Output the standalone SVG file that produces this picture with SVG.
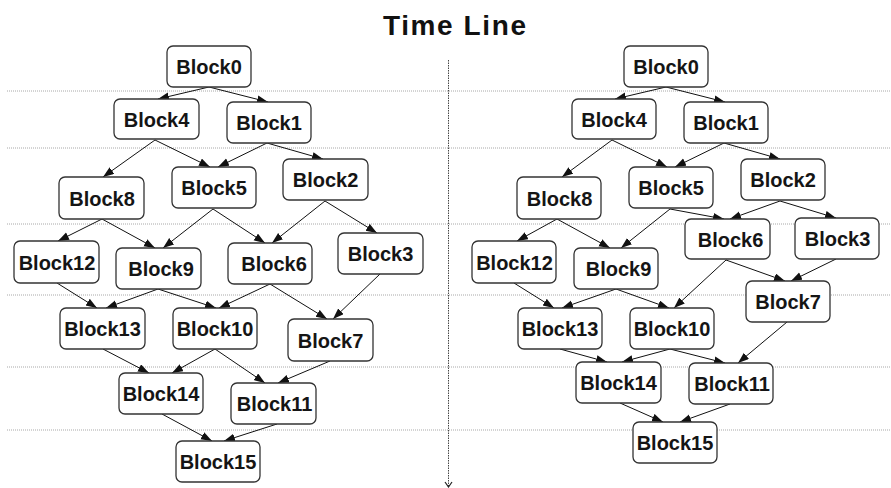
<svg xmlns="http://www.w3.org/2000/svg" width="891" height="488" viewBox="0 0 891 488">
  <style>
    .bg { fill: #ffffff; }
    .title { font-family: "Liberation Sans", Arial, sans-serif; font-weight: bold; font-size: 28px; letter-spacing: 1.6px; fill: #111111; }
    .grid { stroke: #a8a8a8; stroke-width: 1; stroke-dasharray: 1 1; fill: none; }
    .axis { stroke: #444444; stroke-width: 1; stroke-dasharray: 1.5 1; fill: none; }
    .axis-head { stroke: #222222; stroke-width: 1.2; fill: none; }
    .box { fill: #ffffff; stroke: #333333; stroke-width: 1.3; }
    .lbl { font-family: "Liberation Sans", Arial, sans-serif; font-weight: bold; font-size: 20px; fill: #151515; text-anchor: middle; }
    .edge { stroke: #111111; stroke-width: 1; fill: none; marker-end: url(#arrow); }
  </style>
  <defs>
    <marker id="arrow" markerUnits="userSpaceOnUse" markerWidth="11" markerHeight="9" refX="11" refY="4" orient="auto">
      <path d="M0,0 L11,4 L0,8 z" fill="#111111"/>
    </marker>
  </defs>

  <rect class="bg" x="0" y="0" width="891" height="488"/>

  <text class="title" x="383" y="35">Time Line</text>

  <!-- level separators -->
  <g id="levels">
    <line class="grid" x1="7" y1="91" x2="891" y2="91"/>
    <line class="grid" x1="7" y1="148" x2="891" y2="148"/>
    <line class="grid" x1="7" y1="224" x2="891" y2="224"/>
    <line class="grid" x1="7" y1="295" x2="891" y2="295"/>
    <line class="grid" x1="7" y1="367" x2="891" y2="367"/>
    <line class="grid" x1="7" y1="430" x2="891" y2="430"/>
  </g>

  <!-- time axis -->
  <g id="time-axis">
    <line class="axis" x1="448.5" y1="60" x2="448.5" y2="486"/>
    <path class="axis-head" d="M445,482 L448.5,487 L452,482"/>
  </g>

  <!-- connectors -->
  <g id="connectors">
    <!-- left schedule -->
    <line class="edge" x1="209" y1="87" x2="158" y2="99"/>
    <line class="edge" x1="209" y1="87" x2="268" y2="102"/>
    <line class="edge" x1="155" y1="140" x2="103" y2="177"/>
    <line class="edge" x1="155" y1="140" x2="210" y2="167"/>
    <line class="edge" x1="267" y1="143" x2="218" y2="167"/>
    <line class="edge" x1="267" y1="143" x2="323" y2="159"/>
    <line class="edge" x1="102" y1="219" x2="58" y2="241"/>
    <line class="edge" x1="102" y1="219" x2="155" y2="248"/>
    <line class="edge" x1="213" y1="209" x2="163" y2="248"/>
    <line class="edge" x1="213" y1="209" x2="265" y2="243"/>
    <line class="edge" x1="325" y1="201" x2="272" y2="243"/>
    <line class="edge" x1="325" y1="201" x2="377" y2="233"/>
    <line class="edge" x1="57" y1="283" x2="97" y2="308"/>
    <line class="edge" x1="158" y1="289" x2="106" y2="308"/>
    <line class="edge" x1="158" y1="289" x2="216" y2="308"/>
    <line class="edge" x1="270" y1="284" x2="219" y2="308"/>
    <line class="edge" x1="270" y1="284" x2="327" y2="319"/>
    <line class="edge" x1="380" y1="274" x2="333" y2="319"/>
    <line class="edge" x1="103" y1="349" x2="149" y2="373"/>
    <line class="edge" x1="215" y1="349" x2="172" y2="373"/>
    <line class="edge" x1="215" y1="349" x2="265" y2="383"/>
    <line class="edge" x1="330" y1="361" x2="278" y2="383"/>
    <line class="edge" x1="162" y1="414" x2="212" y2="441"/>
    <line class="edge" x1="277" y1="424" x2="224" y2="441"/>

    <!-- right schedule -->
    <line class="edge" x1="666" y1="87" x2="615" y2="99"/>
    <line class="edge" x1="666" y1="87" x2="725" y2="102"/>
    <line class="edge" x1="612" y1="140" x2="562" y2="177"/>
    <line class="edge" x1="612" y1="140" x2="667" y2="167"/>
    <line class="edge" x1="724" y1="143" x2="675" y2="167"/>
    <line class="edge" x1="724" y1="143" x2="780" y2="159"/>
    <line class="edge" x1="557" y1="219" x2="517" y2="241"/>
    <line class="edge" x1="557" y1="219" x2="610" y2="248"/>
    <line class="edge" x1="670" y1="209" x2="621" y2="248"/>
    <line class="edge" x1="670" y1="209" x2="724" y2="219"/>
    <line class="edge" x1="780" y1="201" x2="730" y2="219"/>
    <line class="edge" x1="780" y1="201" x2="836" y2="218"/>
    <line class="edge" x1="514" y1="283" x2="554" y2="308"/>
    <line class="edge" x1="616" y1="289" x2="562" y2="308"/>
    <line class="edge" x1="616" y1="289" x2="669" y2="308"/>
    <line class="edge" x1="726" y1="260" x2="674" y2="308"/>
    <line class="edge" x1="726" y1="260" x2="785" y2="281"/>
    <line class="edge" x1="836" y1="259" x2="791" y2="281"/>
    <line class="edge" x1="560" y1="349" x2="607" y2="362"/>
    <line class="edge" x1="670" y1="349" x2="622" y2="362"/>
    <line class="edge" x1="670" y1="349" x2="725" y2="363"/>
    <line class="edge" x1="787" y1="322" x2="738" y2="363"/>
    <line class="edge" x1="620" y1="403" x2="663" y2="422"/>
    <line class="edge" x1="730" y1="404" x2="680" y2="422"/>
  </g>

  <!-- left schedule blocks -->
  <g id="L-Block0"><rect class="box" x="167" y="46" width="84" height="41" rx="6"/><text class="lbl" x="209" y="74">Block0</text></g>
  <g id="L-Block4"><rect class="box" x="114" y="99" width="85" height="40" rx="6"/><text class="lbl" x="156.5" y="126.5">Block4</text></g>
  <g id="L-Block1"><rect class="box" x="227" y="102" width="84" height="41" rx="6"/><text class="lbl" x="269" y="130">Block1</text></g>
  <g id="L-Block8"><rect class="box" x="59" y="177" width="85" height="42" rx="6"/><text class="lbl" x="102" y="205.5">Block8</text></g>
  <g id="L-Block5"><rect class="box" x="172" y="167" width="84" height="41" rx="6"/><text class="lbl" x="214" y="195">Block5</text></g>
  <g id="L-Block2"><rect class="box" x="283" y="159" width="85" height="41" rx="6"/><text class="lbl" x="325.5" y="187">Block2</text></g>
  <g id="L-Block12"><rect class="box" x="14" y="241" width="85" height="42" rx="6"/><text class="lbl" x="57" y="269.5">Block12</text></g>
  <g id="L-Block9"><rect class="box" x="116" y="248" width="85" height="41" rx="6"/><text class="lbl" x="161" y="276">Block9</text></g>
  <g id="L-Block6"><rect class="box" x="228" y="243" width="84" height="41" rx="6"/><text class="lbl" x="274" y="271">Block6</text></g>
  <g id="L-Block3"><rect class="box" x="338" y="233" width="85" height="41" rx="6"/><text class="lbl" x="380.5" y="261">Block3</text></g>
  <g id="L-Block13"><rect class="box" x="60" y="308" width="85" height="41" rx="6"/><text class="lbl" x="102.5" y="336">Block13</text></g>
  <g id="L-Block10"><rect class="box" x="173" y="308" width="84" height="41" rx="6"/><text class="lbl" x="215" y="336">Block10</text></g>
  <g id="L-Block7"><rect class="box" x="288" y="319" width="85" height="42" rx="6"/><text class="lbl" x="330.5" y="347.5">Block7</text></g>
  <g id="L-Block14"><rect class="box" x="119" y="373" width="84" height="41" rx="6"/><text class="lbl" x="161" y="401">Block14</text></g>
  <g id="L-Block11"><rect class="box" x="231" y="383" width="85" height="41" rx="6"/><text class="lbl" x="274.5" y="411">Block11</text></g>
  <g id="L-Block15"><rect class="box" x="176" y="441" width="84" height="41" rx="6"/><text class="lbl" x="218" y="469">Block15</text></g>

  <!-- right schedule blocks -->
  <g id="R-Block0"><rect class="box" x="624" y="46" width="84" height="41" rx="6"/><text class="lbl" x="666" y="74">Block0</text></g>
  <g id="R-Block4"><rect class="box" x="572" y="99" width="84" height="40" rx="6"/><text class="lbl" x="614" y="126.5">Block4</text></g>
  <g id="R-Block1"><rect class="box" x="684" y="102" width="84" height="41" rx="6"/><text class="lbl" x="726" y="130">Block1</text></g>
  <g id="R-Block8"><rect class="box" x="517" y="177" width="84" height="42" rx="6"/><text class="lbl" x="559.5" y="205.5">Block8</text></g>
  <g id="R-Block5"><rect class="box" x="629" y="167" width="84" height="41" rx="6"/><text class="lbl" x="671" y="195">Block5</text></g>
  <g id="R-Block2"><rect class="box" x="741" y="159" width="84" height="41" rx="6"/><text class="lbl" x="783" y="187">Block2</text></g>
  <g id="R-Block12"><rect class="box" x="472" y="241" width="84" height="42" rx="6"/><text class="lbl" x="514.5" y="269.5">Block12</text></g>
  <g id="R-Block9"><rect class="box" x="574" y="248" width="84" height="41" rx="6"/><text class="lbl" x="618.5" y="276">Block9</text></g>
  <g id="R-Block6"><rect class="box" x="685" y="219" width="85" height="40" rx="6"/><text class="lbl" x="730.5" y="246.5">Block6</text></g>
  <g id="R-Block3"><rect class="box" x="795" y="218" width="84" height="41" rx="6"/><text class="lbl" x="837.5" y="246">Block3</text></g>
  <g id="R-Block7"><rect class="box" x="746" y="281" width="84" height="41" rx="6"/><text class="lbl" x="788" y="309">Block7</text></g>
  <g id="R-Block13"><rect class="box" x="518" y="308" width="84" height="41" rx="6"/><text class="lbl" x="560" y="336">Block13</text></g>
  <g id="R-Block10"><rect class="box" x="630" y="308" width="84" height="41" rx="6"/><text class="lbl" x="672" y="336">Block10</text></g>
  <g id="R-Block14"><rect class="box" x="576" y="362" width="85" height="41" rx="6"/><text class="lbl" x="618.5" y="390">Block14</text></g>
  <g id="R-Block11"><rect class="box" x="689" y="363" width="84" height="41" rx="6"/><text class="lbl" x="732" y="391">Block11</text></g>
  <g id="R-Block15"><rect class="box" x="633" y="422" width="84" height="41" rx="6"/><text class="lbl" x="675" y="450">Block15</text></g>
</svg>
